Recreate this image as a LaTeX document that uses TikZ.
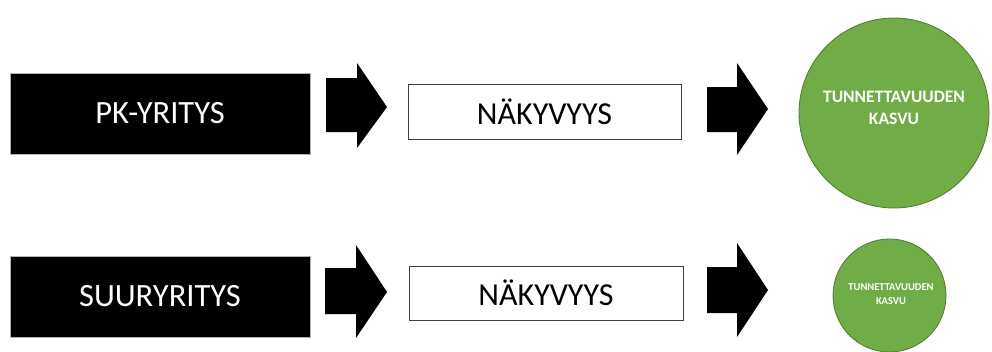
\documentclass[tikz,border=0pt]{standalone}
\usepackage{fontspec}
\setmainfont{Carlito}
\definecolor{cgreen}{HTML}{70AD47}
\definecolor{cgreenb}{HTML}{4E7A31}
\tikzset{
  blackbox/.style={fill=black, draw=gray!60, line width=0.5pt, inner sep=0pt, text=white, font=\fontsize{32.5}{32}\selectfont},
  whitebox/.style={fill=white, draw=black!75, line width=0.8pt, inner sep=0pt, text=black, font=\fontsize{32}{32}\selectfont},
  blockarrow/.style={fill=black, draw=none},
  greencircle/.style={circle, fill=cgreen, draw=cgreenb, line width=0.8pt, inner sep=0pt},
  circletext/.style={text=white, align=center},
}
\begin{document}
\begin{tikzpicture}[x=1pt,y=-1pt]
\useasboundingbox (0,0) rectangle (992,351);
% top row
\node[blackbox, minimum width=300pt, minimum height=81pt] (pk) at (160,113.5) {PK-YRITYS};
\fill[blockarrow] (326,78) -- (357,78) -- (357,63) -- (387,107) -- (357,148) -- (357,132) -- (326,132) -- cycle;
\node[whitebox, minimum width=273pt, minimum height=55pt] (n1) at (544.5,111.5) {NÄKYVYYS};
\fill[blockarrow] (707,87) -- (737,87) -- (737,63) -- (768,109) -- (737,155) -- (737,132) -- (707,132) -- cycle;
\node[greencircle, minimum size=190pt] (c1) at (894,113) {};
\node[circletext, font=\bfseries\fontsize{17.5}{22}\selectfont] (t1) at (894,108) {TUNNETTAVUUDEN\\KASVU};
% bottom row
\node[blackbox, minimum width=300pt, minimum height=81pt] (su) at (160,296.5) {SUURYRITYS};
\fill[blockarrow] (325,268) -- (356,268) -- (356,245) -- (387,292) -- (356,338) -- (356,314) -- (325,314) -- cycle;
\node[whitebox, minimum width=274pt, minimum height=54pt] (n2) at (546,293) {NÄKYVYYS};
\fill[blockarrow] (707,267) -- (737,267) -- (737,243) -- (768,290) -- (737,337) -- (737,313) -- (707,313) -- cycle;
\node[greencircle, minimum size=113pt] (c2) at (889.5,295.5) {};
\node[circletext, font=\bfseries\fontsize{10.5}{14}\selectfont] (t2) at (891,294) {TUNNETTAVUUDEN\\KASVU};
\end{tikzpicture}
\end{document}
